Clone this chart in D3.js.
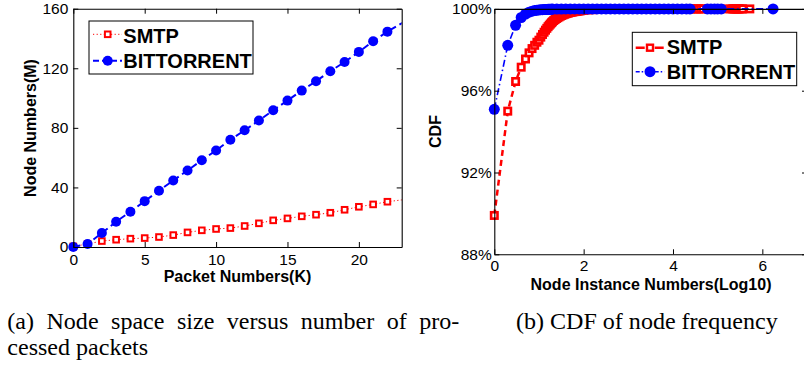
<!DOCTYPE html>
<html><head><meta charset="utf-8">
<script src="https://cdn.jsdelivr.net/npm/d3@7"></script>
<style>body{margin:0;background:#fff}svg{display:block}</style>
</head><body>
<svg id="c" width="804" height="369"></svg>
<script>
// ---------- data: chart (a) ----------
const packetK   = [0,1,2,3,4,5,6,7,8,9,10,11,12,13,14,15,16,17,18,19,20,21,22,23.4];
const smtpNodes = [0.4,2,4,4.9,5.6,6,6.7,8,9.8,11.2,12.1,12.7,14.1,15.9,17.9,19.2,20.6,21.7,23,25,27,28.6,30.4,32.1];
const btNodes   = [0,2,9.4,17,23.7,30.8,37.8,44.7,51.4,58.3,64.8,72,78.4,84.9,91.8,98.3,105,111.3,118,124.2,131,138.1,144.6,152.4];
const leftXTicks = [0,5,10,15,20];
const leftYTicks = [0,40,80,120,160];
// ---------- data: chart (b) ----------
const smtpLogX = [0,0.301,0.477,0.602,0.699,0.778,0.845,0.903,0.954,1.000,1.041,1.079,1.114,1.146,1.176,1.204,1.230,1.255,1.279,1.301,
  1.33,1.36,1.39,1.42,1.45,1.48,1.51,1.54,1.57,1.60,1.63,1.66,1.69,1.72,1.75,1.78,1.81,1.84,1.87,1.90,1.93,1.96,2.00,
  2.1,2.2,2.3,2.4,2.5,2.6,2.7,2.8,2.9,3.0,3.1,3.2,3.3,3.4,3.5,3.6,3.7,3.8,3.9,4.0,4.1,4.2,4.3,4.4,
  4.47,4.52,4.57,4.62,4.67,4.8,4.95,5.1,5.29,5.32,5.35,5.38,5.41,5.44,5.47,5.50,5.53,5.56,5.72];
const smtpCdf = [89.9,95.0,96.45,97.15,97.55,97.85,98.06,98.22,98.37,98.47,98.62,98.75,98.86,98.96,99.05,99.13,99.20,99.26,99.32,99.37,
  99.43,99.48,99.53,99.57,99.61,99.65,99.68,99.71,99.74,99.76,99.78,99.80,99.82,99.83,99.85,99.86,99.87,99.88,99.89,99.90,99.91,99.92,99.93,
  99.95,99.96,99.97,99.98,99.98,99.99,99.99,99.99,100,100,100,100,100,100,100,100,100,100,100,100,100,100,100,100,
  100,100,100,100,100,100,100,100,100,100,100,100,100,100,100,100,100,100,100];
const btLogX = [0,0.301,0.477,0.602,0.699,0.778,0.845,0.903,0.954,1.000,1.041,1.079,1.114,1.146,1.176,1.204,1.230,1.255,1.279,1.301,
  1.4,1.5,1.6,1.7,1.8,1.9,2.0,2.1,2.2,2.3,2.4,2.5,2.6,2.7,2.8,2.9,3.0,3.1,3.2,3.3,3.4,3.5,3.6,3.7,3.8,3.9,4.0,4.1,4.2,4.3,4.38,
  4.77,4.85,4.93,5.0,5.08,6.24];
const btCdf = [95.09,98.22,99.2,99.58,99.75,99.84,99.89,99.92,99.94,99.95,99.96,99.96,99.97,99.97,99.97,99.98,99.98,99.98,99.98,99.99,
  99.99,99.99,100,100,100,100,100,100,100,100,100,100,100,100,100,100,100,100,100,100,100,100,100,100,100,100,100,100,100,100,100,
  100,100,100,100,100,100];
const rightXTicks = [0,2,4,6];
const rightYTicks = [88,92,96,100];
const seriesNames = ["SMTP","BITTORRENT"];
const captionA = ["(a) Node space size versus number of pro-","cessed packets"];
const captionB = "(b) CDF of node frequency";

const RED="#ff0000", BLUE="#0000ff";
const svg=d3.select("#c");
svg.append("rect").attr("width",804).attr("height",369).attr("fill","#fff");
const sans="'Liberation Sans', Arial, sans-serif";
const defs=svg.append("defs");

function frame(g,x,y,xt,yt,xPad,yPad,yFmt){
  const [x0,x1]=x.range(), [y0,y1]=y.range();
  const st=a=>{a.selectAll("path,line").attr("stroke","#000").attr("stroke-width",1);
               a.selectAll("text").attr("font-family",sans).attr("font-size","15.5px").attr("fill","#000");};
  g.append("g").attr("transform",`translate(0,${y0})`)
    .call(d3.axisBottom(x).tickValues(xt).tickSize(-5).tickSizeOuter(0).tickPadding(xPad).tickFormat(d3.format("d"))).call(st);
  g.append("g").attr("transform",`translate(0,${y1})`)
    .call(d3.axisTop(x).tickValues(xt).tickSize(-5).tickSizeOuter(0).tickFormat("")).call(st);
  g.append("g").attr("transform",`translate(${x0},0)`)
    .call(d3.axisLeft(y).tickValues(yt).tickSize(-5).tickSizeOuter(0).tickPadding(yPad).tickFormat(yFmt)).call(st);
  g.append("g").attr("transform",`translate(${x1},0)`)
    .call(d3.axisRight(y).tickValues(yt).tickSize(-5).tickSizeOuter(0).tickFormat("")).call(st);
  g.selectAll(".domain").attr("stroke","#000").attr("stroke-width",1.1);
}
function squares(g,pts,side,sw){
  g.selectAll(null).data(pts).enter().append("rect")
   .attr("x",d=>d[0]-side/2).attr("y",d=>d[1]-side/2).attr("width",side).attr("height",side)
   .attr("fill","#fff").attr("stroke",RED).attr("stroke-width",sw);
}
function circles(g,pts,r){
  g.selectAll(null).data(pts).enter().append("circle")
   .attr("cx",d=>d[0]).attr("cy",d=>d[1]).attr("r",r).attr("fill",BLUE);
}

// ================= chart (a) =================
{
  const x=d3.scaleLinear().domain([0,23]).range([73.3,401.7]);
  const y=d3.scaleLinear().domain([0,160]).range([247,8.7]);
  const g=svg.append("g");
  defs.append("clipPath").attr("id","clipA").append("rect")
    .attr("x",73.3).attr("y",0).attr("width",401.7-73.3).attr("height",260);
  const line=d3.line().x(d=>x(d[0])).y(d=>y(d[1]));
  const sm=packetK.map((k,i)=>[k,smtpNodes[i]]);
  const bt=packetK.map((k,i)=>[k,btNodes[i]]);
  g.append("path").attr("d",line(sm)).attr("clip-path","url(#clipA)").attr("fill","none")
    .attr("stroke",RED).attr("stroke-width",1).attr("stroke-dasharray","1.2,2.4");
  squares(g,sm.filter(d=>d[0]<=23).map(d=>[x(d[0]),y(d[1])]),5.6,2);
  g.append("path").attr("d",line(bt)).attr("clip-path","url(#clipA)").attr("fill","none")
    .attr("stroke",BLUE).attr("stroke-width",2).attr("stroke-dasharray","7,4");
  circles(g,bt.filter(d=>d[0]<=23).map(d=>[x(d[0]),y(d[1])]),5);
  frame(g,x,y,leftXTicks,leftYTicks,7,5,d3.format("d"));
  g.append("text").attr("x",237.5).attr("y",281.5).attr("text-anchor","middle")
    .attr("font-family",sans).attr("font-weight","bold").attr("font-size","16px").text("Packet Numbers(K)");
  g.append("text").attr("transform","translate(36,128) rotate(-90)").attr("text-anchor","middle")
    .attr("font-family",sans).attr("font-weight","bold").attr("font-size","16px").text("Node Numbers(M)");
  // legend
  const lg=g.append("g");
  lg.append("rect").attr("x",89).attr("y",21).attr("width",164).attr("height",53)
    .attr("fill","#fff").attr("stroke","#000").attr("stroke-width",1);
  lg.append("line").attr("x1",93).attr("x2",122).attr("y1",34.3).attr("y2",34.3)
    .attr("stroke",RED).attr("stroke-width",1).attr("stroke-dasharray","1.2,2.4");
  squares(lg,[[107.7,34.3]],5.6,2);
  lg.append("line").attr("x1",93).attr("x2",122).attr("y1",60.7).attr("y2",60.7)
    .attr("stroke",BLUE).attr("stroke-width",2).attr("stroke-dasharray","6,3");
  circles(lg,[[107.7,60.7]],5);
  lg.selectAll(null).data(seriesNames).enter().append("text")
    .attr("x",123.3).attr("y",(d,i)=>[42.7,68.3][i]).attr("font-family",sans)
    .attr("font-weight","bold").attr("font-size","20px").text(d=>d);
}

// ================= chart (b) =================
{
  const x=d3.scaleLinear().domain([0,7]).range([494.3,807]);
  const y=d3.scaleLinear().domain([88,100]).range([254.3,8.9]);
  const g=svg.append("g");
  const line=d3.line().x(d=>x(d[0])).y(d=>y(d[1]));
  const sm=smtpLogX.map((v,i)=>[v,smtpCdf[i]]);
  const bt=btLogX.map((v,i)=>[v,btCdf[i]]);
  g.append("path").attr("d",line(sm)).attr("fill","none")
    .attr("stroke",RED).attr("stroke-width",2.5).attr("stroke-dasharray","6,4");
  squares(g,sm.map(d=>[x(d[0]),y(d[1])]),6.4,2.6);
  g.append("path").attr("d",line(bt)).attr("fill","none")
    .attr("stroke",BLUE).attr("stroke-width",1.6).attr("stroke-dasharray","7,3,1.5,3");
  circles(g,bt.map(d=>[x(d[0]),y(d[1])]),5.5);
  frame(g,x,y,rightXTicks,rightYTicks,6,2.6,d=>d+"%");
  g.append("text").attr("x",651).attr("y",289.5).attr("text-anchor","middle")
    .attr("font-family",sans).attr("font-weight","bold").attr("font-size","16px").text("Node Instance Numbers(Log10)");
  g.append("text").attr("transform","translate(441,131.5) rotate(-90)").attr("text-anchor","middle")
    .attr("font-family",sans).attr("font-weight","bold").attr("font-size","16px").text("CDF");
  const lg=g.append("g");
  lg.append("rect").attr("x",632.3).attr("y",32.3).attr("width",164.4).attr("height",53.4)
    .attr("fill","#fff").attr("stroke","#000").attr("stroke-width",1);
  lg.append("line").attr("x1",635.7).attr("x2",664.3).attr("y1",47.7).attr("y2",47.7)
    .attr("stroke",RED).attr("stroke-width",2.5).attr("stroke-dasharray","9,10,9");
  squares(lg,[[650,47.7]],6,2.4);
  lg.append("line").attr("x1",635.7).attr("x2",664.3).attr("y1",71.7).attr("y2",71.7)
    .attr("stroke",BLUE).attr("stroke-width",1.6).attr("stroke-dasharray","4,2,1.5,2");
  circles(lg,[[650,71.7]],5.5);
  lg.selectAll(null).data(seriesNames).enter().append("text")
    .attr("x",666.7).attr("y",(d,i)=>[54.3,79][i]).attr("font-family",sans)
    .attr("font-weight","bold").attr("font-size","20px").text(d=>d);
}

// ================= captions =================
const serif="'Liberation Serif','Times New Roman',serif";
// horizontal stretch so the unjustified line matches the reference width
const probe=svg.append("text").attr("font-family",serif).attr("font-size","23px").text(captionA[1]);
const sx=Math.min(1.12,Math.max(0.9,141/probe.node().getComputedTextLength()));
probe.remove();
function caption(txt,x,yb,target){
  const t=svg.append("text").attr("transform",`translate(${x},${yb}) scale(${sx},1)`)
    .attr("font-family",serif).attr("font-size","23px").attr("fill","#000").text(txt);
  if(target){
    const w=t.node().getComputedTextLength()*sx;
    const n=(txt.match(/ /g)||[]).length;
    if(n>0 && target>w) t.attr("word-spacing",((target-w)/n/sx).toFixed(2));
  }
}
caption(captionA[0],7.3,329,452);
caption(captionA[1],7.3,354.5,null);
caption(captionB,516,329,260.7);
</script>
</body></html>
